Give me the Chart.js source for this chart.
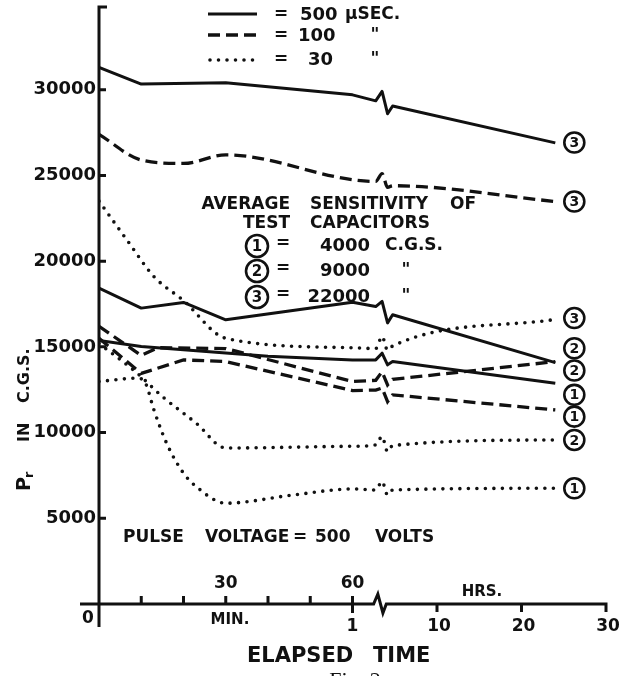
<!DOCTYPE html>
<html lang="en">
<head>
<meta charset="UTF-8" />
<title>Elapsed time</title>
<style>
  html, body { margin: 0; padding: 0; background: #fff; }
  #wrap { width: 629px; height: 676px; position: relative; }
</style>
</head>
<body>
<div id="wrap"><canvas id="myChart"></canvas></div>
<script src="https://cdn.jsdelivr.net/npm/chart.js"></script>
<script>
  const INK = "#111";

  // Axis ticks
  const yTicks = [5000, 10000, 15000, 20000, 25000, 30000];
  const minuteTicks = [10, 20, 30, 40, 50, 60];
  const minuteLabels = [30, 60];
  const hourTicks = [10, 20, 30];

  // x axis: 0-60 minutes, then a break, then hours (1 hr = 2 axis units)
  const breakX = [65.5, 67, 68.3, 69.5];
  const endHours = 24;
  const hrs = (h) => 60 + 2 * h;

  // 500 usec
  const s3Min = [0, 10, 30, 60];
  const s3Val = [31300, 30330, 30400, 29700];
  const s3Zig = [29350, 29900, 28600, 29050];
  const s3End = 26900;

  const s2Min = [0, 10, 20, 30, 60];
  const s2Val = [18430, 17260, 17590, 16580, 17600];
  const s2Zig = [17350, 17650, 16400, 16870];
  const s2End = 14080;

  const s1Min = [0, 10, 40, 60];
  const s1Val = [15370, 15020, 14450, 14240];
  const s1Zig = [14240, 14630, 13950, 14140];
  const s1End = 12880;

  // 100 usec
  const d3Min = [0, 10, 20, 30, 60];
  const d3Val = [27400, 25900, 25700, 26200, 24750];
  const d3Zig = [24650, 25100, 24300, 24400];
  const d3End = 23480;

  const d2Min = [0, 10, 14, 30, 60];
  const d2Val = [16200, 14500, 14950, 14900, 12980];
  const d2Zig = [13050, 13550, 12780, 13100];
  const d2End = 14140;

  const d1Min = [0, 10, 20, 30, 60];
  const d1Val = [15500, 13450, 14240, 14140, 12450];
  const d1Zig = [12480, 12600, 11800, 12200];
  const d1End = 11320;

  // 30 usec
  const t3Min = [0, 7, 13, 20, 30, 60];
  const t3Val = [23500, 21100, 19100, 17700, 15500, 14950];
  const t3Zig = [14900, 15600, 14800, 15050];
  const t3End = 16600;

  const t2Min = [0, 9, 15, 23, 30, 60];
  const t2Val = [15200, 13470, 12100, 10550, 9100, 9200];
  const t2Zig = [9280, 9770, 8890, 9240];
  const t2End = 9570;

  const t1Min = [0, 9, 11, 13, 16, 20, 23, 30, 46, 60];
  const t1Val = [12980, 13170, 12880, 11320, 9380, 7630, 6850, 5880, 6360, 6710];
  const t1Zig = [6650, 7140, 6360, 6650];
  const t1End = 6750;

  // circled capacitor numbers at the right-hand ends
  const endTagX = 112.5;
  const endTagVal = [26920, 23480, 16680, 14920, 13620, 12200, 10930, 9570, 6750];
  const endTagNum = ["3", "3", "3", "2", "2", "1", "1", "2", "1"];

  function series(mins, vals, zig, end) {
    const pts = mins.map((m, i) => ({ x: m, y: vals[i] }));
    breakX.forEach((bx, i) => pts.push({ x: bx, y: zig[i] }));
    pts.push({ x: hrs(endHours), y: end });
    return pts;
  }

  const solid = { borderColor: INK, borderWidth: 3, borderJoinStyle: "round" };
  const dashed = { borderColor: INK, borderWidth: 3.3, borderDash: [12, 6] };
  const dotted = {
    borderColor: INK, borderWidth: 3.6, borderDash: [0, 8.5],
    borderCapStyle: "round", cubicInterpolationMode: "monotone",
  };

  const datasets = [
    { label: "500 3", data: series(s3Min, s3Val, s3Zig, s3End), ...solid },
    { label: "500 2", data: series(s2Min, s2Val, s2Zig, s2End), ...solid },
    { label: "500 1", data: series(s1Min, s1Val, s1Zig, s1End), ...solid },
    { label: "100 3", data: series(d3Min, d3Val, d3Zig, d3End), ...dashed, cubicInterpolationMode: "monotone" },
    { label: "100 2", data: series(d2Min, d2Val, d2Zig, d2End), ...dashed },
    { label: "100 1", data: series(d1Min, d1Val, d1Zig, d1End), ...dashed },
    { label: "30 3", data: series(t3Min, t3Val, t3Zig, t3End), ...dotted },
    { label: "30 2", data: series(t2Min, t2Val, t2Zig, t2End), ...dotted },
    { label: "30 1", data: series(t1Min, t1Val, t1Zig, t1End), ...dotted },
  ];

  function txt(ctx, s, x, y, size, align) {
    ctx.font = "bold " + size + 'px "DejaVu Sans"';
    ctx.textAlign = align || "left";
    ctx.textBaseline = "middle";
    ctx.fillText(s, x, y);
  }

  function circled(ctx, d, x, y, r) {
    ctx.save();
    ctx.setLineDash([]);
    ctx.lineWidth = 2.6;
    ctx.beginPath();
    ctx.arc(x, y, r, 0, Math.PI * 2);
    ctx.stroke();
    txt(ctx, d, x, y + 1, Math.round(r * 1.35), "center");
    ctx.restore();
  }

  function sample(ctx, style, x1, x2, y) {
    ctx.save();
    ctx.lineWidth = style.borderWidth;
    ctx.setLineDash(style.borderDash || []);
    ctx.lineCap = style.borderCapStyle || "butt";
    ctx.beginPath();
    ctx.moveTo(x1, y);
    ctx.lineTo(x2, y);
    ctx.stroke();
    ctx.restore();
  }

  // axes, break marks and the lettering
  const decor = {
    id: "decor",
    afterDraw(chart) {
      const { ctx, scales: { x, y } } = chart;
      const X = (v) => x.getPixelForValue(v);
      const Y = (v) => y.getPixelForValue(v);
      const x0 = X(0);
      const base = Y(0);
      ctx.save();
      ctx.strokeStyle = INK;
      ctx.fillStyle = INK;
      ctx.lineWidth = 3;
      ctx.lineCap = "butt";

      // y axis
      ctx.beginPath();
      ctx.moveTo(x0 + 8, 7);
      ctx.lineTo(x0, 7);
      ctx.lineTo(x0, base + 23);
      yTicks.forEach((v) => {
        ctx.moveTo(x0, Y(v));
        ctx.lineTo(x0 + 7, Y(v));
      });
      ctx.stroke();

      // x axis with its break
      ctx.beginPath();
      ctx.moveTo(x0 - 19, base);
      ctx.lineTo(X(65), base);
      ctx.lineTo(X(66), base - 10);
      ctx.lineTo(X(67.2), base + 9);
      ctx.lineTo(X(68), base);
      ctx.lineTo(X(hrs(30)), base);
      ctx.lineTo(X(hrs(30)), base + 8);
      minuteTicks.forEach((m) => {
        ctx.moveTo(X(m), base);
        ctx.lineTo(X(m), base - 8);
      });
      ctx.moveTo(X(60), base);
      ctx.lineTo(X(60), base + 9);
      hourTicks.slice(0, 2).forEach((h) => {
        ctx.moveTo(X(hrs(h)), base);
        ctx.lineTo(X(hrs(h)), base + 8);
      });
      ctx.stroke();

      minuteLabels.forEach((m) => txt(ctx, String(m), X(m), base - 20, 17, "center"));
      txt(ctx, "0", x0 - 11, base + 15, 17, "center");
      txt(ctx, "MIN.", X(31), base + 16, 15, "center");
      txt(ctx, "1", X(60), base + 23, 17, "center");
      hourTicks.forEach((h) => txt(ctx, String(h), X(hrs(h)) + 2, base + 23, 17, "center"));
      txt(ctx, "HRS.", 482, base - 12, 15, "center");
      txt(ctx, "ELAPSED", 247, 657, 21);
      txt(ctx, "TIME", 373, 657, 21);

      ctx.font = '22px "Liberation Serif"';
      ctx.textAlign = "center";
      ctx.textBaseline = "alphabetic";
      ctx.fillText("Fig. 2", 355, 687);

      // y axis title, reading upwards
      ctx.save();
      ctx.translate(25, 491);
      ctx.rotate(-Math.PI / 2);
      txt(ctx, "P", 0, 0, 19);
      txt(ctx, "r", 13, 5, 13);
      txt(ctx, "IN", 49, 0, 16);
      txt(ctx, "C.G.S.", 88, 0, 16);
      ctx.restore();

      // line key
      sample(ctx, solid, 208, 257, 14);
      sample(ctx, dashed, 208, 257, 35);
      sample(ctx, { borderWidth: 3.6, borderDash: [0, 8.5], borderCapStyle: "round" }, 210, 254, 60);
      txt(ctx, "=", 281, 15, 17, "center");
      txt(ctx, "500", 300, 15, 18);
      txt(ctx, "\u00b5SEC.", 345, 15, 17);
      txt(ctx, "=", 281, 36, 17, "center");
      txt(ctx, "100", 298, 36, 18);
      txt(ctx, "\"", 375, 36, 17, "center");
      txt(ctx, "=", 281, 60, 17, "center");
      txt(ctx, "30", 308, 60, 18);
      txt(ctx, "\"", 375, 60, 17, "center");

      // capacitor key
      txt(ctx, "AVERAGE", 290, 205, 17, "right");
      txt(ctx, "SENSITIVITY", 310, 205, 17);
      txt(ctx, "OF", 450, 205, 17);
      txt(ctx, "TEST", 290, 224, 17, "right");
      txt(ctx, "CAPACITORS", 310, 224, 17);
      const rows = [["1", 246, "4000", "C.G.S."], ["2", 271, "9000", "\""], ["3", 297, "22000", "\""]];
      rows.forEach(([n, ry, val, unit]) => {
        circled(ctx, n, 257, ry, 11);
        txt(ctx, "=", 283, ry - 2, 17, "center");
        txt(ctx, val, 370, ry, 18, "right");
        if (unit === "\"") txt(ctx, unit, 406, ry, 17, "center");
        else txt(ctx, unit, 385, ry, 17);
      });

      txt(ctx, "PULSE", 123, 538, 17);
      txt(ctx, "VOLTAGE", 205, 538, 17);
      txt(ctx, "=", 300, 538, 17, "center");
      txt(ctx, "500", 315, 538, 17);
      txt(ctx, "VOLTS", 375, 538, 17);

      endTagVal.forEach((v, i) => circled(ctx, endTagNum[i], X(endTagX), Y(v), 10));
      ctx.restore();
    },
  };

  const ctx = document.getElementById("myChart").getContext("2d");
  const chart = new Chart(ctx, {
    type: "line",
    data: { datasets: datasets },
    options: {
      responsive: true,
      maintainAspectRatio: false,
      animation: false,
      layout: { padding: { left: 0, right: 23, top: 4, bottom: 72 } },
      elements: { point: { radius: 0 }, line: { fill: false } },
      plugins: { legend: { display: false }, tooltip: { enabled: false } },
      scales: {
        x: { type: "linear", min: 0, max: 120, display: false },
        y: {
          min: 0,
          max: 35000,
          afterBuildTicks: (s) => { s.ticks = yTicks.map((v) => ({ value: v })); },
          afterFit: (s) => { s.width = 99; s.paddingTop = 0; s.paddingBottom = 0; },
          grid: { display: false, drawTicks: false },
          border: { display: false },
          ticks: {
            padding: 3,
            color: INK,
            font: { family: "DejaVu Sans", size: 18, weight: "bold" },
            callback: (v) => String(v),
          },
        },
      },
    },
    plugins: [decor],
  });
</script>
</body>
</html>
